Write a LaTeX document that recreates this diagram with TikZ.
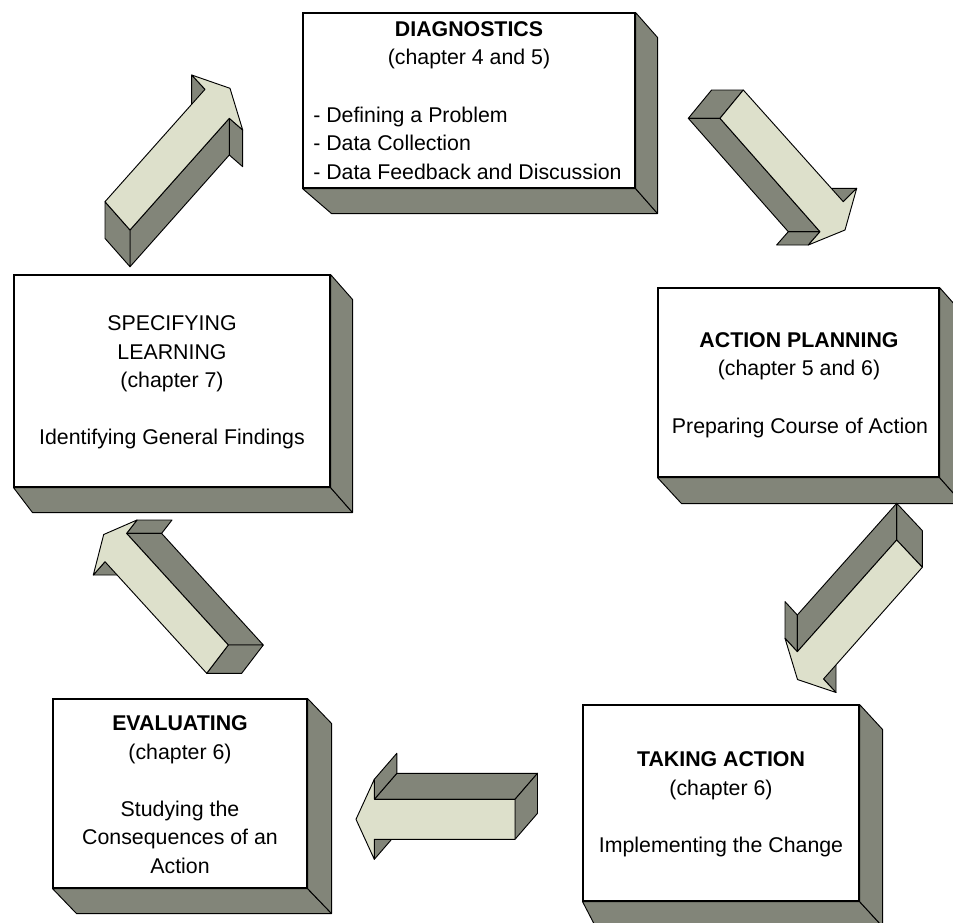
\documentclass[tikz,border=0pt]{standalone}
\usepackage{fontspec}
\setmainfont{Liberation Sans}
\usetikzlibrary{calc}
\definecolor{sidegray}{RGB}{130,133,121}
\definecolor{facelight}{RGB}{221,224,203}
\tikzset{
  frontbox/.style={draw=black, fill=white, line width=0.8pt, inner sep=0pt},
  sideface/.style={draw=black, fill=sidegray, line width=0.7pt, line join=round},
  topface/.style={draw=black, fill=facelight, line width=0.7pt, line join=round},
  lbl/.style={inner sep=0pt, anchor=base, font=\fontsize{16}{19}\selectfont},
  lbll/.style={lbl, anchor=base west},
}
% #1 node, #2 bottom-left dx, #3 right dx, #4 dy
\newcommand\mkdepth[4]{%
  \filldraw[sideface] (#1.south west) -- (#1.south east) -- ($(#1.south east)+(#3,#4)$) -- ($(#1.south west)+(#2,#4)$) -- cycle;
  \filldraw[sideface] (#1.north east) -- ($(#1.north east)+(#3,#4)$) -- ($(#1.south east)+(#3,#4)$) -- (#1.south east) -- cycle;
}
\begin{document}
\begin{tikzpicture}[x=0.75pt,y=-0.75pt]
\useasboundingbox (0,0) rectangle (953,922);
\clip (0,0) rectangle (953,922);

% ---------- boxes ----------
\node[frontbox, minimum width=249pt, minimum height=131.25pt] (diag) at (469,100.5) {};
\mkdepth{diag}{29}{22}{25}
\node[frontbox, minimum width=210.75pt, minimum height=141.75pt] (plan) at (798.5,382.5) {};
\mkdepth{plan}{24}{23}{26}
\node[frontbox, minimum width=237pt, minimum height=159pt] (spec) at (172,381) {};
\mkdepth{spec}{19}{22}{25}
\node[frontbox, minimum width=190.5pt, minimum height=141.75pt] (eval) at (180,793.5) {};
\mkdepth{eval}{24}{24}{25}
\node[frontbox, minimum width=207pt, minimum height=147pt] (take) at (721,803) {};
\mkdepth{take}{13}{23}{25}

% ---------- texts ----------
\node[lbl] (diag-t1) at (469,36) {\bfseries DIAGNOSTICS};
\node[lbl] (diag-t2) at (469,64.5) {(chapter 4 and 5)};
\node[lbll] (diag-t3) at (313,122) {- Defining a Problem};
\node[lbll] (diag-t4) at (313,150.5) {- Data Collection};
\node[lbll] (diag-t5) at (313,179) {- Data Feedback and Discussion};

\node[lbl] (spec-t1) at (172,330.5) {SPECIFYING};
\node[lbl] (spec-t2) at (172,359) {LEARNING};
\node[lbl] (spec-t3) at (172,387.5) {(chapter 7)};
\node[lbl] (spec-t4) at (172,444.5) {Identifying General Findings};

\node[lbl] (plan-t1) at (799,347.5) {\bfseries ACTION PLANNING};
\node[lbl] (plan-t2) at (799,375.5) {(chapter 5 and 6)};
\node[lbl] (plan-t3) at (800,433.5) {Preparing Course of Action};

\node[lbl] (eval-t1) at (180,730.5) {\bfseries EVALUATING};
\node[lbl] (eval-t2) at (180,759) {(chapter 6)};
\node[lbl] (eval-t3) at (180,816) {Studying the};
\node[lbl] (eval-t4) at (180,844.5) {Consequences of an};
\node[lbl] (eval-t5) at (180,873) {Action};

\node[lbl] (take-t1) at (721,766.5) {\bfseries TAKING ACTION};
\node[lbl] (take-t2) at (721,795) {(chapter 6)};
\node[lbl] (take-t3) at (721,852) {Implementing the Change};

% ---------- arrow 1: specifying -> diagnostics (up-right) ----------
\filldraw[sideface] (205,89.3) -- (191.7,75) -- (191.7,111.7) -- (205,126) -- cycle;
\filldraw[sideface] (242.7,130) -- (229.3,118.3) -- (229.3,155) -- (242.7,166.7) -- cycle;
\filldraw[sideface] (229.3,118.3) -- (130,230) -- (130,266.7) -- (229.3,155) -- cycle;
\filldraw[sideface] (130,230) -- (105,201.7) -- (105,238.4) -- (130,266.7) -- cycle;
\filldraw[topface] (105,201.7) -- (205,89.3) -- (191.7,75) -- (230,88.3) -- (242.7,130) -- (229.3,118.3) -- (130,230) -- cycle;

% ---------- arrow 2: diagnostics -> action planning (down-right) ----------
\filldraw[sideface] (720,118.3) -- (743.3,90) -- (711.6,90) -- (688.3,118.3) -- cycle;
\filldraw[sideface] (843.3,201.7) -- (856.7,188.3) -- (825,188.3) -- (811.6,201.7) -- cycle;
\filldraw[sideface] (808.3,245) -- (820,231.7) -- (788.3,231.7) -- (776.6,245) -- cycle;
\filldraw[sideface] (820,231.7) -- (720,118.3) -- (688.3,118.3) -- (788.3,231.7) -- cycle;
\filldraw[topface] (720,118.3) -- (743.3,90) -- (843.3,201.7) -- (856.7,188.3) -- (845,230) -- (808.3,245) -- (820,231.7) -- cycle;

% ---------- arrow 3: action planning -> taking action (down-left) ----------
\filldraw[sideface] (896.7,540) -- (922.3,567.3) -- (922.3,530.6) -- (896.7,503.3) -- cycle;
\filldraw[sideface] (823.5,679) -- (836,692.5) -- (836,655.8) -- (823.5,642.3) -- cycle;
\filldraw[sideface] (785,638.3) -- (797.3,651.7) -- (797.3,615) -- (785,601.6) -- cycle;
\filldraw[sideface] (797.3,651.7) -- (896.7,540) -- (896.7,503.3) -- (797.3,615) -- cycle;
\filldraw[topface] (896.7,540) -- (922.3,567.3) -- (823.5,679) -- (836,692.5) -- (797.5,679.5) -- (785,638.3) -- (797.3,651.7) -- cycle;

% ---------- arrow 4: taking action -> evaluating (left) ----------
\filldraw[sideface] (515,799.3) -- (374.3,799.3) -- (396.8,773.3) -- (537.5,773.3) -- cycle;
\filldraw[sideface] (374.3,799.3) -- (374.3,779.3) -- (396.8,753.3) -- (396.8,773.3) -- cycle;
\filldraw[sideface] (374.3,859.3) -- (374.3,839.3) -- (396.8,813.3) -- (396.8,833.3) -- cycle;
\filldraw[sideface] (515,839.3) -- (515,799.3) -- (537.5,773.3) -- (537.5,813.3) -- cycle;
\filldraw[topface] (515,799.3) -- (374.3,799.3) -- (374.3,779.3) -- (356,819.3) -- (374.3,859.3) -- (374.3,839.3) -- (515,839.3) -- cycle;

% ---------- arrow 5: evaluating -> specifying (up-left) ----------
\filldraw[sideface] (105,561.7) -- (93.3,575) -- (128.3,575) -- (140,561.7) -- cycle;
\filldraw[sideface] (137,520) -- (126.6,533.4) -- (161.6,533.4) -- (172,520) -- cycle;
\filldraw[sideface] (126.6,533.4) -- (228.3,645) -- (263.3,645) -- (161.6,533.4) -- cycle;
\filldraw[sideface] (228.3,645) -- (206.7,673.3) -- (241.7,673.3) -- (263.3,645) -- cycle;
\filldraw[topface] (206.7,673.3) -- (105,561.7) -- (93.3,575) -- (103.7,534.5) -- (137,520) -- (126.6,533.4) -- (228.3,645) -- cycle;
\end{tikzpicture}
\end{document}
